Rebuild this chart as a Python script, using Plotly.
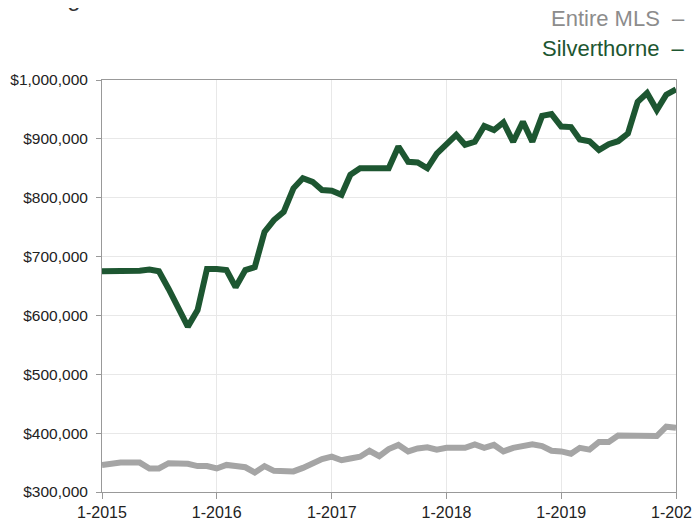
import pandas as pd
import plotly.graph_objects as go

months = pd.date_range("2015-01-01", "2020-01-01", freq="MS").strftime("%Y-%m-%d").tolist()

silverthorne = [675, 675, 675, 675, 676, 678, 675, 645, 612, 581,
                609, 679, 679, 677, 648, 677, 682, 742, 762, 776,
                816, 833, 827, 813, 812, 805, 839, 850, 850, 850,
                850, 887, 861, 860, 850, 875, 892, 907, 890, 895,
                922, 915, 928, 895, 929, 895, 939, 942, 921, 920,
                899, 896, 881, 891, 896, 909, 963, 978, 949, 975,
                984]
entire_mls = [346, 349, 350, 350, 350, 340, 340, 349, 349, 348,
              344, 344, 340, 346, 344, 342, 333, 344, 336, 335,
              335, 341, 350, 356, 360, 354, 357, 360, 370, 361,
              373, 380, 369, 374, 376, 372, 375, 375, 375, 381,
              375, 380, 369, 375, 379, 381, 378, 370, 369, 365,
              375, 372, 385, 385, 396, 396, 396, 395, 395, 411,
              409]
series_names = ["Entire MLS", "Silverthorne"]
y_ticks = [300000, 400000, 500000, 600000, 700000, 800000, 900000, 1000000]

GREEN = "#1d5631"
GRAY = "#a5a5a5"

fig = go.Figure()
fig.add_trace(go.Scatter(x=months, y=[v * 1000 for v in entire_mls], mode="lines",
                         name=series_names[0], line=dict(color=GRAY, width=6)))
fig.add_trace(go.Scatter(x=months, y=[v * 1000 for v in silverthorne], mode="lines",
                         name=series_names[1], line=dict(color=GREEN, width=6)))

fig.update_layout(
    width=700, height=521,
    margin=dict(l=94, r=32, t=72, b=37),
    paper_bgcolor="white", plot_bgcolor="white",
    showlegend=False,
    font=dict(family="Liberation Sans, Arial, sans-serif", size=16, color="#222"),
)
fig.update_xaxes(
    type="date", range=[months[0], months[-1]], automargin=False,
    dtick="M12", tick0=months[0], tickformat="%-m-%Y",
    showgrid=True, gridcolor="#e8e8e8", gridwidth=1,
    showline=True, linecolor="#999", linewidth=1, mirror=True,
    ticks="outside", ticklen=6, tickcolor="#999",
    tickfont=dict(size=16, color="#222"),
)
fig.update_yaxes(
    range=[300000, 1000000], tickvals=y_ticks, tickformat="$,.0f", automargin=False,
    showgrid=True, gridcolor="#e8e8e8", gridwidth=1,
    showline=True, linecolor="#999", linewidth=1, mirror=True,
    ticks="outside", ticklen=5, tickcolor="#999", ticklabelstandoff=5,
    tickfont=dict(size=15.5, color="#222"), zeroline=False,
)

# legend drawn as right-aligned labels with a trailing dash, like the reference
fig.add_annotation(xref="paper", yref="paper", x=1.019, y=1.0, yshift=62,
                   xanchor="right", yanchor="middle", showarrow=False,
                   text=series_names[0] + "  –",
                   font=dict(size=22, color="#8c8c8c"))
fig.add_annotation(xref="paper", yref="paper", x=1.019, y=1.0, yshift=32,
                   xanchor="right", yanchor="middle", showarrow=False,
                   text=series_names[1] + "  –",
                   font=dict(size=22, color=GREEN))
# title cut off at top of the frame
fig.add_annotation(xref="paper", yref="paper", x=-0.172, y=1.0, yshift=67,
                   xanchor="left", yanchor="bottom", showarrow=False,
                   text="Average Sale Price",
                   font=dict(size=24, color="#333"))

fig.write_html("out.html")
